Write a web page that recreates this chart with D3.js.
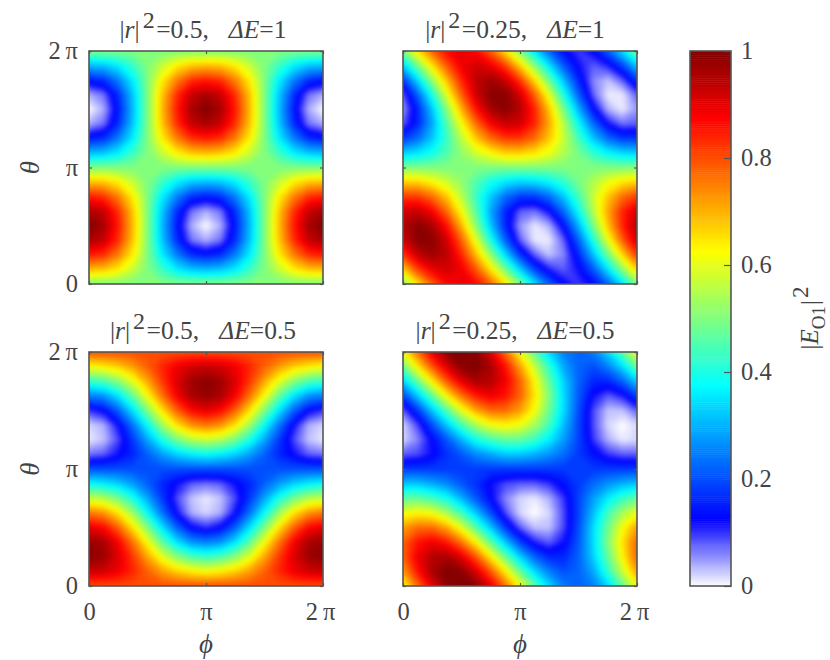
<!DOCTYPE html>
<html><head><meta charset="utf-8">
<script src="https://cdn.jsdelivr.net/npm/d3@7"></script>
<style>
html,body{margin:0;padding:0;background:#fff}
svg{display:block}
text{font-family:"Liberation Serif","Times New Roman",serif;fill:#444;white-space:pre}
</style></head><body><svg id="c" width="830" height="660"></svg>
<script>
// Rows run from theta = 0 up to 2 pi, columns from phi = 0 to 2 pi, 17 samples each way.
const panelA = [
[.50,.50,.50,.50,.50,.50,.50,.50,.50,.50,.50,.50,.50,.50,.50,.50,.50],
[.69,.68,.64,.57,.50,.43,.36,.32,.31,.32,.36,.43,.50,.57,.64,.68,.69],
[.85,.83,.75,.64,.50,.36,.25,.17,.15,.17,.25,.36,.50,.64,.75,.83,.85],
[.96,.93,.83,.68,.50,.32,.17,.07,.04,.07,.17,.32,.50,.68,.83,.93,.96],
[1.0,.96,.85,.69,.50,.31,.15,.04,.00,.04,.15,.31,.50,.69,.85,.96,1.0],
[.96,.93,.83,.68,.50,.32,.17,.07,.04,.07,.17,.32,.50,.68,.83,.93,.96],
[.85,.83,.75,.64,.50,.36,.25,.17,.15,.17,.25,.36,.50,.64,.75,.83,.85],
[.69,.68,.64,.57,.50,.43,.36,.32,.31,.32,.36,.43,.50,.57,.64,.68,.69],
[.50,.50,.50,.50,.50,.50,.50,.50,.50,.50,.50,.50,.50,.50,.50,.50,.50],
[.31,.32,.36,.43,.50,.57,.64,.68,.69,.68,.64,.57,.50,.43,.36,.32,.31],
[.15,.17,.25,.36,.50,.64,.75,.83,.85,.83,.75,.64,.50,.36,.25,.17,.15],
[.04,.07,.17,.32,.50,.68,.83,.93,.96,.93,.83,.68,.50,.32,.17,.07,.04],
[.00,.04,.15,.31,.50,.69,.85,.96,1.0,.96,.85,.69,.50,.31,.15,.04,.00],
[.04,.07,.17,.32,.50,.68,.83,.93,.96,.93,.83,.68,.50,.32,.17,.07,.04],
[.15,.17,.25,.36,.50,.64,.75,.83,.85,.83,.75,.64,.50,.36,.25,.17,.15],
[.31,.32,.36,.43,.50,.57,.64,.68,.69,.68,.64,.57,.50,.43,.36,.32,.31],
[.50,.50,.50,.50,.50,.50,.50,.50,.50,.50,.50,.50,.50,.50,.50,.50,.50]];
const panelB = [
[.50,.65,.78,.87,.90,.87,.78,.65,.50,.35,.22,.13,.10,.13,.22,.35,.50],
[.67,.81,.89,.92,.89,.79,.65,.49,.33,.19,.11,.08,.12,.21,.35,.51,.67],
[.82,.93,.97,.94,.84,.69,.52,.34,.18,.08,.03,.06,.16,.31,.48,.66,.82],
[.92,.99,.99,.92,.78,.60,.40,.22,.08,.01,.01,.08,.22,.40,.60,.78,.92],
[.95,.99,.96,.86,.70,.51,.32,.16,.05,.01,.04,.14,.30,.49,.68,.84,.95],
[.92,.93,.88,.77,.62,.46,.29,.16,.08,.07,.12,.23,.38,.55,.71,.84,.92],
[.82,.82,.77,.68,.56,.43,.32,.23,.18,.18,.23,.32,.44,.57,.68,.77,.82],
[.67,.67,.63,.58,.52,.45,.39,.35,.33,.34,.37,.42,.49,.55,.61,.65,.67],
[.50,.50,.50,.50,.50,.50,.50,.50,.50,.50,.50,.50,.50,.50,.50,.50,.50],
[.33,.35,.39,.45,.52,.58,.63,.67,.67,.65,.61,.55,.49,.42,.37,.34,.33],
[.18,.23,.32,.43,.56,.68,.77,.82,.82,.77,.68,.57,.44,.32,.23,.18,.18],
[.08,.16,.29,.46,.62,.77,.88,.93,.92,.84,.71,.55,.38,.23,.12,.07,.08],
[.05,.16,.32,.51,.70,.86,.96,.99,.95,.84,.68,.49,.30,.14,.04,.01,.05],
[.08,.22,.40,.60,.78,.92,.99,.99,.92,.78,.60,.40,.22,.08,.01,.01,.08],
[.18,.34,.52,.69,.84,.94,.97,.93,.82,.66,.48,.31,.16,.06,.03,.08,.18],
[.33,.49,.65,.79,.89,.92,.89,.81,.67,.51,.35,.21,.12,.08,.11,.19,.33],
[.50,.65,.78,.87,.90,.87,.78,.65,.50,.35,.22,.13,.10,.13,.22,.35,.50]];
const panelC = [
[.80,.80,.80,.80,.80,.80,.80,.80,.80,.80,.80,.80,.80,.80,.80,.80,.80],
[.93,.92,.89,.84,.78,.72,.67,.64,.62,.64,.67,.72,.78,.84,.89,.92,.93],
[.99,.97,.91,.82,.71,.60,.51,.45,.43,.45,.51,.60,.71,.82,.91,.97,.99],
[.98,.96,.88,.76,.62,.47,.35,.27,.25,.27,.35,.47,.62,.76,.88,.96,.98],
[.90,.87,.78,.65,.50,.35,.22,.13,.10,.13,.22,.35,.50,.65,.78,.87,.90],
[.76,.73,.65,.53,.38,.24,.12,.04,.02,.04,.12,.24,.38,.53,.65,.73,.76],
[.57,.55,.49,.40,.29,.18,.09,.03,.01,.03,.09,.18,.29,.40,.49,.55,.57],
[.38,.36,.33,.28,.22,.16,.12,.08,.07,.08,.12,.16,.22,.28,.33,.36,.38],
[.20,.20,.20,.20,.20,.20,.20,.20,.20,.20,.20,.20,.20,.20,.20,.20,.20],
[.07,.08,.12,.16,.22,.28,.33,.36,.38,.36,.33,.28,.22,.16,.12,.08,.07],
[.01,.03,.09,.18,.29,.40,.49,.55,.57,.55,.49,.40,.29,.18,.09,.03,.01],
[.02,.04,.12,.24,.38,.53,.65,.73,.76,.73,.65,.53,.38,.24,.12,.04,.02],
[.10,.13,.22,.35,.50,.65,.78,.87,.90,.87,.78,.65,.50,.35,.22,.13,.10],
[.25,.27,.35,.47,.62,.76,.88,.96,.98,.96,.88,.76,.62,.47,.35,.27,.25],
[.43,.45,.51,.60,.71,.82,.91,.97,.99,.97,.91,.82,.71,.60,.51,.45,.43],
[.62,.64,.67,.72,.78,.84,.89,.92,.93,.92,.89,.84,.78,.72,.67,.64,.62],
[.80,.80,.80,.80,.80,.80,.80,.80,.80,.80,.80,.80,.80,.80,.80,.80,.80]];
const panelD = [
[.62,.77,.90,.99,1.0,.99,.90,.77,.62,.47,.34,.25,.22,.25,.34,.47,.62],
[.72,.86,.96,1.0,.99,.91,.79,.64,.48,.34,.25,.20,.22,.29,.42,.57,.72],
[.78,.89,.95,.96,.90,.79,.64,.48,.33,.22,.16,.16,.22,.33,.47,.63,.78],
[.78,.86,.89,.85,.76,.63,.47,.32,.19,.11,.08,.12,.21,.34,.50,.65,.78],
[.72,.77,.77,.71,.60,.46,.32,.18,.08,.03,.03,.09,.20,.34,.48,.62,.72],
[.61,.63,.61,.54,.44,.32,.20,.09,.02,.00,.02,.09,.19,.31,.44,.54,.61],
[.47,.47,.44,.39,.30,.21,.13,.06,.02,.01,.04,.10,.19,.28,.36,.43,.47],
[.32,.32,.29,.26,.21,.17,.12,.09,.08,.08,.10,.14,.18,.23,.27,.30,.32],
[.18,.18,.18,.18,.18,.18,.18,.18,.18,.18,.18,.18,.18,.18,.18,.18,.18],
[.08,.09,.12,.17,.21,.26,.29,.32,.32,.30,.27,.23,.18,.14,.10,.08,.08],
[.02,.06,.13,.21,.30,.39,.44,.47,.47,.43,.36,.28,.19,.10,.04,.01,.02],
[.02,.09,.20,.32,.44,.54,.61,.63,.61,.54,.44,.31,.19,.09,.02,.00,.02],
[.08,.18,.32,.46,.60,.71,.77,.77,.72,.62,.48,.34,.20,.09,.03,.03,.08],
[.19,.32,.47,.63,.76,.85,.89,.86,.78,.65,.50,.34,.21,.12,.08,.11,.19],
[.33,.48,.64,.79,.90,.96,.95,.89,.78,.63,.47,.33,.22,.16,.16,.22,.33],
[.48,.64,.79,.91,.99,1.0,.96,.86,.72,.57,.42,.29,.22,.20,.25,.34,.48],
[.62,.77,.90,.99,1.0,.99,.90,.77,.62,.47,.34,.25,.22,.25,.34,.47,.62]];

const piTicks = [0, Math.PI, 2 * Math.PI];
const piLabels = ["0", "\u03c0", "2\u2009\u03c0"];
const colorTicks = [0, 0.2, 0.4, 0.6, 0.8, 1];
const colorTickLabels = ["0", "0.2", "0.4", "0.6", "0.8", "1"];
const mapStops = [0, 0.125, 0.375, 0.625, 0.875, 1];
const mapColors = ["#ffffff", "#0000ff", "#00ffff", "#ffff00", "#ff0000", "#800000"];
const titleR = ["0.5", "0.25", "0.5", "0.25"];
const titleE = ["1", "1", "0.5", "0.5"];
const panelData = [panelA, panelB, panelC, panelD];

const FONT = 24.5, TITLE = 25.5, INK = "#444", FRAME = "#555";
const boxes = [
  {x0: 89,  x1: 323, y0: 284, y1: 51},
  {x0: 403, x1: 637, y0: 284, y1: 51},
  {x0: 89,  x1: 323, y0: 586, y1: 352},
  {x0: 403, x1: 637, y0: 586, y1: 352}
];
const svg = d3.select("#c");
const color = d3.scaleLinear().domain(mapStops).range(mapColors).clamp(true);
const levels = d3.range(0, 1, 1 / 128);

const blur = svg.append("defs").append("filter").attr("id", "soft")
  .attr("filterUnits", "userSpaceOnUse").attr("x", 0).attr("y", 0).attr("width", 830).attr("height", 660)
  .attr("color-interpolation-filters", "sRGB");
blur.append("feGaussianBlur").attr("stdDeviation", 2);

function styleAxis(g, size) {
  g.selectAll(".domain").remove();
  g.selectAll("line").attr("stroke", FRAME).attr("stroke-width", 1.2);
  g.selectAll("text").attr("font-size", size).attr("fill", INK).style("font-family", '"Liberation Serif",serif');
  g.attr("font-family", null).attr("font-size", null);
}

panelData.forEach((rows, idx) => {
  const b = boxes[idx];
  const n = rows[0].length, m = rows.length;
  const x = d3.scaleLinear().domain([0, 2 * Math.PI]).range([b.x0, b.x1]);
  const y = d3.scaleLinear().domain([0, 2 * Math.PI]).range([b.y0, b.y1]);
  const gx = d3.scaleLinear().domain([0.5, n - 0.5]).range(x.range());
  const gy = d3.scaleLinear().domain([0.5, m - 0.5]).range(y.range());
  const path = d3.geoPath(d3.geoTransform({point(px, py) { this.stream.point(gx(px), gy(py)); }}));
  const contours = d3.contours().size([n, m]).thresholds(levels)(rows.flat());
  const g = svg.append("g");
  g.append("clipPath").attr("id", "clip" + idx).append("rect")
    .attr("x", b.x0).attr("y", b.y1).attr("width", b.x1 - b.x0).attr("height", b.y0 - b.y1);
  g.append("g").attr("clip-path", `url(#clip${idx})`)
    .append("g").attr("filter", "url(#soft)")
    .selectAll("path").data(contours).join("path")
    .attr("d", path).attr("fill", d => color(d.value + 1 / 256));
  g.append("rect").attr("x", b.x0).attr("y", b.y1).attr("width", b.x1 - b.x0).attr("height", b.y0 - b.y1)
    .attr("fill", "none").attr("stroke", FRAME).attr("stroke-width", 1.6);

  const isLeft = idx % 2 === 0, isBottom = idx >= 2;
  const ax = g.append("g").attr("transform", `translate(0,${b.y0})`)
    .call(d3.axisBottom(x).tickValues(piTicks).tickSize(-3).tickPadding(17).tickFormat((d, i) => isBottom ? piLabels[i] : ""));
  styleAxis(ax, FONT);
  ax.selectAll("text").filter((d, i) => i === 2).attr("dx", -3);
  const axTop = g.append("g").attr("transform", `translate(0,${b.y1})`)
    .call(d3.axisTop(x).tickValues(piTicks).tickSize(-3).tickFormat(""));
  styleAxis(axTop, FONT);
  const ay = g.append("g").attr("transform", `translate(${b.x0},0)`)
    .call(d3.axisLeft(y).tickValues(piTicks).tickSize(-3).tickPadding(11).tickFormat((d, i) => isLeft ? piLabels[i] : ""));
  styleAxis(ay, FONT);
  const ayR = g.append("g").attr("transform", `translate(${b.x1},0)`)
    .call(d3.axisRight(y).tickValues(piTicks).tickSize(-3).tickFormat(""));
  styleAxis(ayR, FONT);

  const cx = (b.x0 + b.x1) / 2;
  const t = g.append("text").attr("x", cx - (isLeft ? 3 : 5)).attr("y", b.y1 - 13.5).attr("text-anchor", "middle").attr("font-size", TITLE);
  t.append("tspan").text("|");
  t.append("tspan").attr("font-style", "italic").text("r");
  t.append("tspan").text("|");
  t.append("tspan").attr("dy", -10).attr("dx", 3).attr("font-size", 24).text("2");
  t.append("tspan").attr("dy", 10).attr("dx", 1.5).text("=" + titleR[idx] + ",");
  t.append("tspan").attr("dx", 20).attr("font-style", "italic").text("\u0394E");
  t.append("tspan").text("=" + titleE[idx]);

  if (isLeft) {
    g.append("text").attr("transform", `translate(39,${(b.y0 + b.y1) / 2}) rotate(-90)`)
      .attr("text-anchor", "middle").attr("font-size", 27).attr("font-style", "italic").text("\u03b8");
  }
  if (isBottom) {
    g.append("text").attr("x", cx).attr("y", 653).attr("text-anchor", "middle")
      .attr("font-size", 27).attr("font-style", "italic").text("\u03d5");
  }
});

// colour bar
const cb = {x0: 690, x1: 731, y0: 586, y1: 51};
const cy = d3.scaleLinear().domain([0, 1]).range([cb.y0, cb.y1]);
const steps = d3.range(0, 1, 1 / 256);
svg.append("g").selectAll("rect").data(steps).join("rect")
  .attr("x", cb.x0).attr("width", cb.x1 - cb.x0)
  .attr("y", d => cy(d + 1 / 256)).attr("height", d => cy(d) - cy(d + 1 / 256) + 0.5)
  .attr("fill", d => color(d + 1 / 512));
svg.append("rect").attr("x", cb.x0).attr("y", cb.y1).attr("width", cb.x1 - cb.x0).attr("height", cb.y0 - cb.y1)
  .attr("fill", "none").attr("stroke", FRAME).attr("stroke-width", 1.6);
const cax = svg.append("g").attr("transform", `translate(${cb.x1},0)`)
  .call(d3.axisRight(cy).tickValues(colorTicks).tickSizeInner(-7).tickSizeOuter(0).tickPadding(10)
    .tickFormat((d, i) => colorTickLabels[i]));
styleAxis(cax, FONT);

const lab = svg.append("text").attr("transform", "translate(818,318) rotate(-90)")
  .attr("text-anchor", "middle").attr("font-size", 25);
lab.append("tspan").text("|");
lab.append("tspan").attr("font-style", "italic").text("E");
lab.append("tspan").attr("dy", 7).attr("font-size", 19).text("O1");
lab.append("tspan").attr("dy", -7).attr("dx", 1).text("|");
lab.append("tspan").attr("dy", -10).attr("dx", 2).attr("font-size", 23).text("2");
</script></body></html>
